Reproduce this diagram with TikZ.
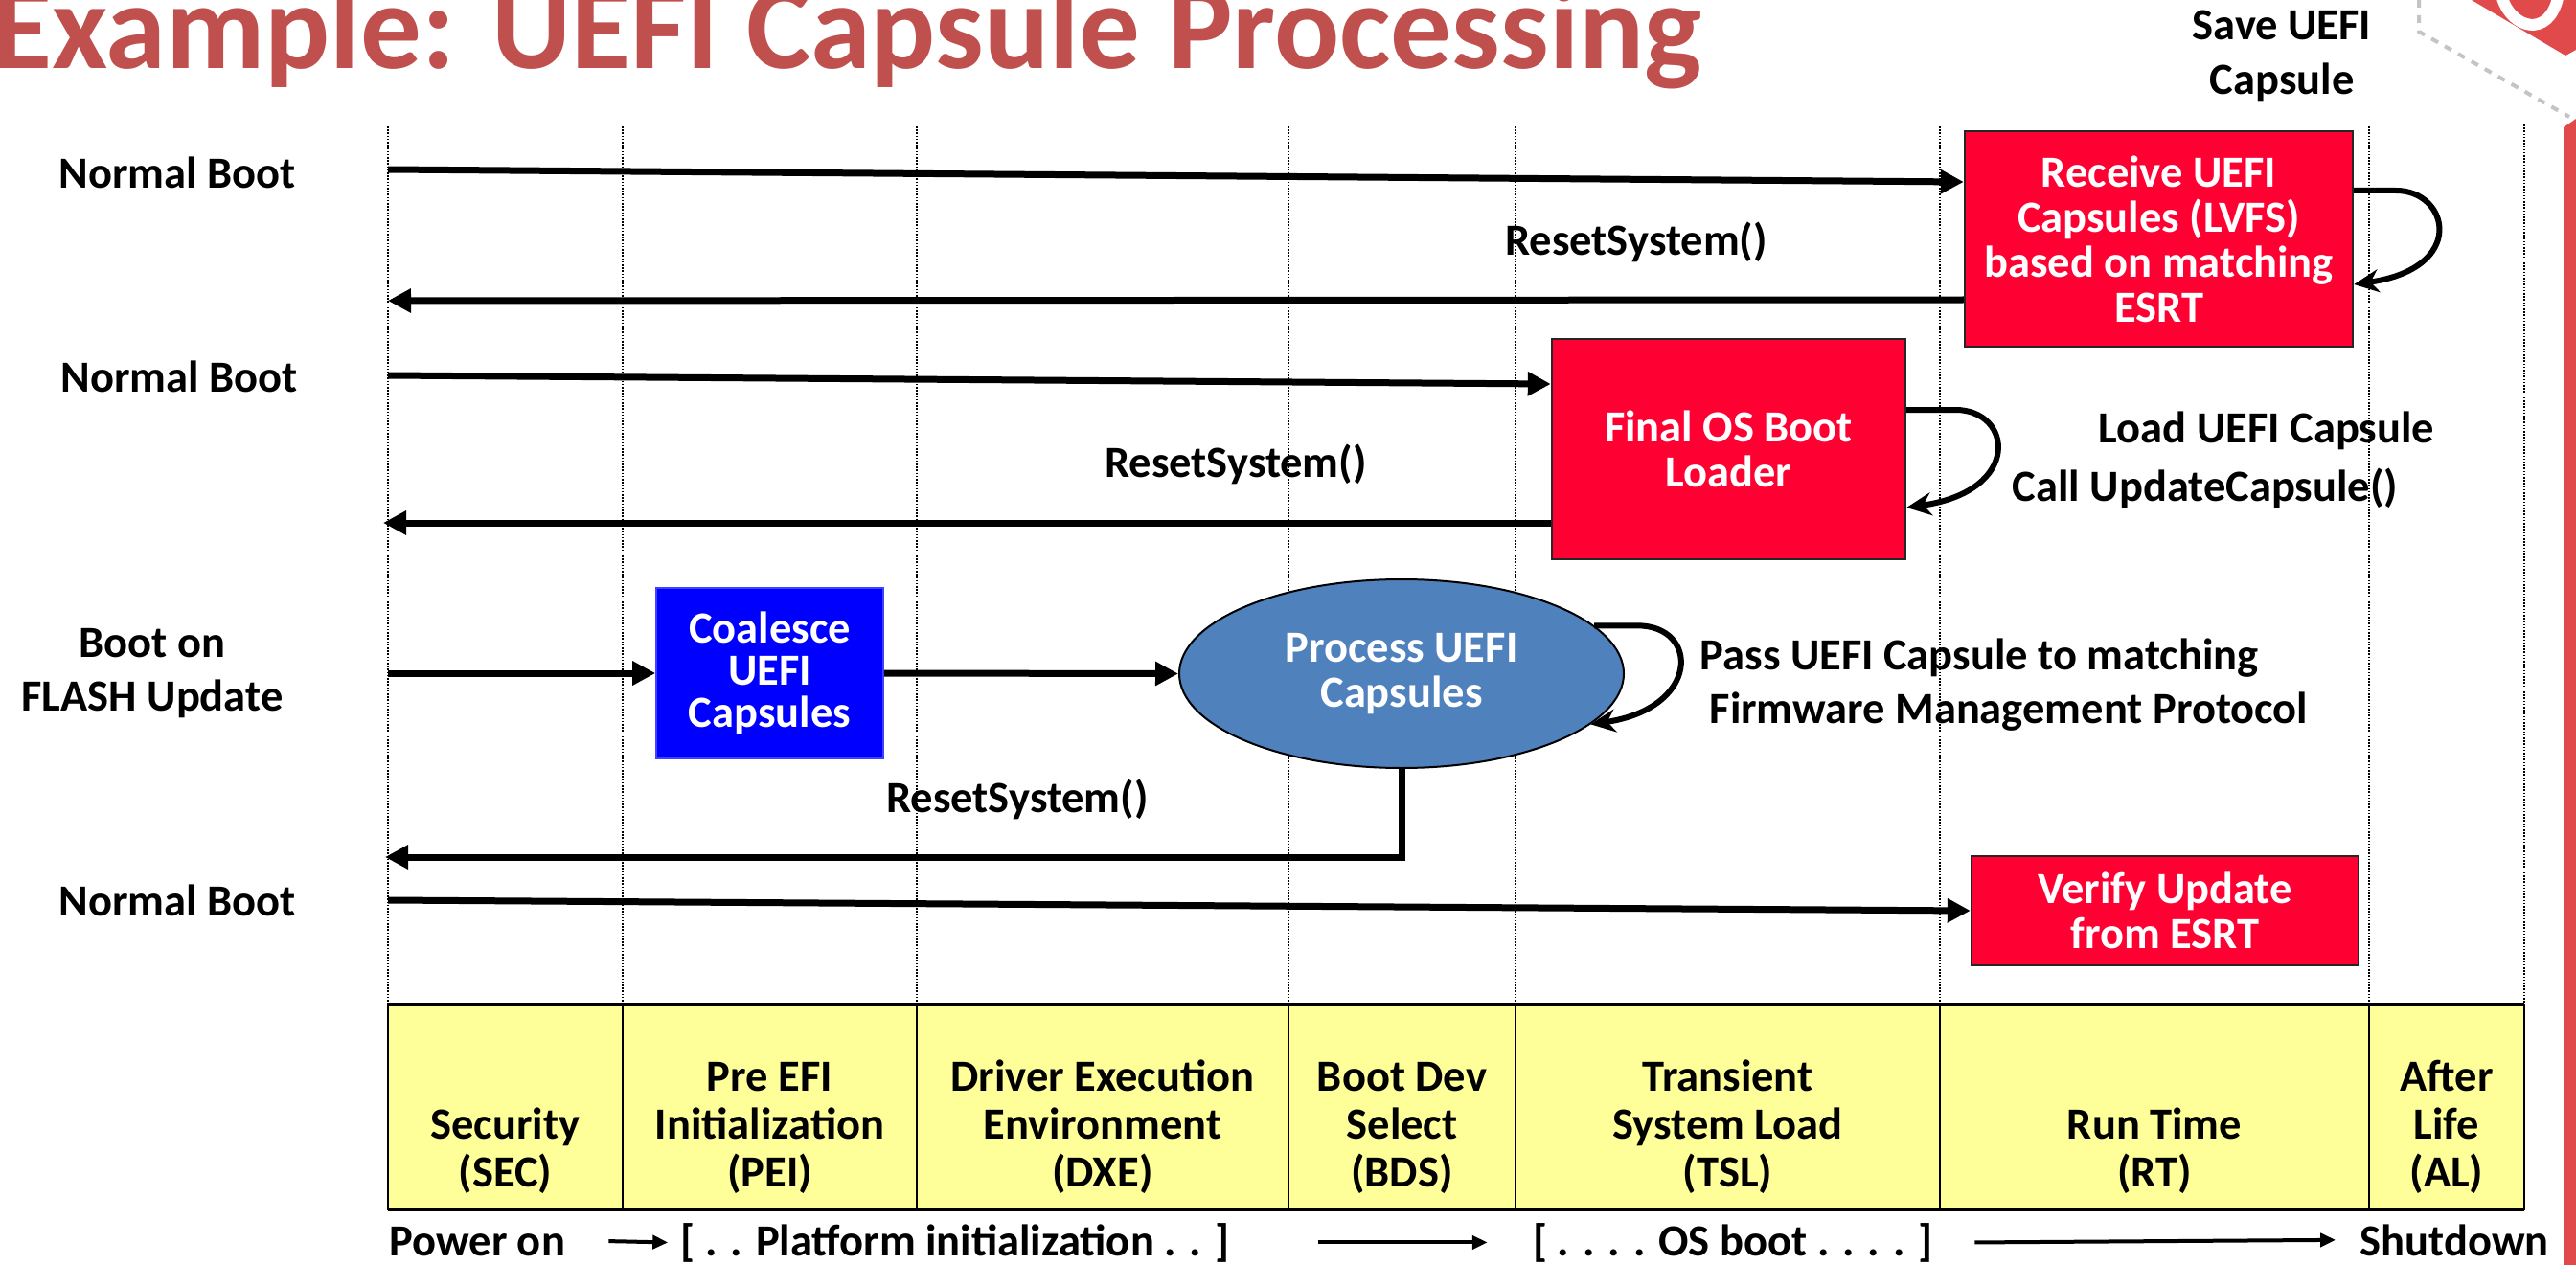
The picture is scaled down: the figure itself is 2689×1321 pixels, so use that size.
\documentclass[tikz,border=0pt]{standalone}
\usepackage{fontspec}
\setmainfont{Carlito}
\usetikzlibrary{arrows.meta,shapes.geometric,calc}

\definecolor{titlered}{HTML}{C0504D}
\definecolor{boxred}{HTML}{FF0033}
\definecolor{boxblue}{HTML}{0000FF}
\definecolor{procblue}{HTML}{4F81BD}
\definecolor{bandyellow}{HTML}{FFFF99}
\definecolor{logored}{HTML}{E04A4A}
\definecolor{logogray}{HTML}{C4C4C4}

\newcommand{\myfs}[2]{\fontsize{#1}{#2}\selectfont\bfseries}

\begin{document}
\begin{tikzpicture}[x=0.5pt,y=-0.5pt,
  lbl/.style={font=\myfs{23.25}{28}, inner sep=0, align=center},
  boxtxt/.style={font=\myfs{23.25}{23.5}, text=white, align=center, inner sep=0},
  redbox/.style={rectangle, fill=boxred, draw=black!85, line width=1.2pt, boxtxt},
  flow/.style={line width=3.5pt, -{Triangle[length=12pt,width=12pt]}},
  selfloop/.style={line width=3pt, -{Stealth[length=13pt,width=12pt]}},
  lifeline/.style={line width=0.8pt, dash pattern=on 0.8pt off 0.8pt},
  cell/.style={rectangle, fill=bandyellow, draw=black, line width=1pt,
    minimum height=107pt, inner sep=0, outer sep=0},
  celltxt/.style={font=\myfs{23.25}{25}, align=center, inner sep=0, anchor=south},
  bottomarrow/.style={line width=2pt, -{Triangle[length=8pt,width=7pt]}}
]
\useasboundingbox (0,0) rectangle (2689,1321);
\clip (0,0) rectangle (2689,1321);
\fill[white] (0,0) rectangle (2689,1321);

% corner logo and side bar
\fill[logored] (2580,0) -- (2678,58) -- (2689,52) -- (2689,0) -- cycle;
\draw[white, line width=6pt] (2612,-2) .. controls (2622,30) and (2660,40) .. (2670,-2);
\draw[logogray, line width=2pt, dash pattern=on 4pt off 4pt] (2525,0) -- (2525,33) -- (2682,122);
\fill[logored] (2676,133) -- (2689,124) -- (2689,1321) -- (2676,1321) -- cycle;

% title
\node[font=\myfs{63.5}{70}, text=titlered, anchor=base west, inner sep=0] (title)
  at (-8,72) {Example: UEFI Capsule Processing};

% boot phase band
\node[cell, minimum width=122.5pt] (sec) at (527.5,1156) {};
\node[cell, minimum width=153.5pt] (pei) at (803.5,1156) {};
\node[cell, minimum width=194pt]   (dxe) at (1151,1156) {};
\node[cell, minimum width=118.5pt] (bds) at (1463.5,1156) {};
\node[cell, minimum width=221.5pt] (tsl) at (1803.5,1156) {};
\node[cell, minimum width=224pt]   (rt)  at (2249,1156) {};
\node[cell, minimum width=81pt]    (al)  at (2554,1156) {};
\draw[line width=1.6pt] (sec.north west) -- (al.north east);
\draw[line width=2pt] (sec.south west) -- (al.south east);
\draw[line width=1.2pt] (al.north east) -- (al.south east);

\node[celltxt] (sectxt) at (527.5,1247) {Security\\(SEC)};
\node[celltxt] (peitxt) at (803.5,1247) {Pre EFI\\Initialization\\(PEI)};
\node[celltxt] (dxetxt) at (1151,1247) {Driver Execution\\Environment\\(DXE)};
\node[celltxt] (bdstxt) at (1463.5,1247) {Boot Dev\\Select\\(BDS)};
\node[celltxt] (tsltxt) at (1803.5,1247) {Transient\\System Load\\(TSL)};
\node[celltxt] (rttxt)  at (2249,1247) {Run Time\\(RT)};
\node[celltxt] (altxt)  at (2554,1247) {After\\Life\\(AL)};

% phase lifelines
\foreach \p in {sec,pei,dxe,bds,tsl,rt,al}
  \draw[lifeline] (\p.north west |- 0,132) -- (\p.north west);
\draw[lifeline] (al.north east |- 0,130) -- (al.north east);

% boot path labels
\node[lbl] (nb1) at (185,180) {Normal Boot};
\node[lbl] (nb2) at (187,393) {Normal Boot};
\node[lbl] (flash) at (159,703) {Boot on\\FLASH Update};
\node[lbl] (nb4) at (185,940) {Normal Boot};
\node[lbl, font=\myfs{23.25}{28.5}] (save) at (2382,58) {Save UEFI\\Capsule};

% process boxes
\node[redbox, minimum width=202.5pt, minimum height=112.5pt] (recv) at (2253.5,249.5)
  {Receive UEFI\\Capsules (LVFS)\\based on matching\\ESRT};
\node[redbox, minimum width=184.5pt, minimum height=115pt] (fosbl) at (1804.5,469)
  {Final OS Boot\\Loader};
\node[rectangle, fill=boxblue, draw=blue!75!white, line width=0.8pt, boxtxt,
  font=\myfs{23.25}{22}, minimum width=118.5pt, minimum height=89pt] (coal) at (803.5,703)
  {Coalesce\\UEFI\\Capsules};
\node[ellipse, fill=procblue, draw=black, line width=1pt, boxtxt,
  minimum width=232pt, minimum height=98.5pt] (proc) at (1463,703.5)
  {Process UEFI\\Capsules};
\node[redbox, minimum width=202pt, minimum height=57pt] (verify) at (2260,951)
  {Verify Update\\from ESRT};

% lifeline ends of the flows
\coordinate (nb1s) at (405,177);
\coordinate (rs1e) at (405,314);
\coordinate (nb2s) at (405,392);
\coordinate (rs2e) at (400,546);
\coordinate (nb3s) at (405,703);
\coordinate (rs3e) at (402,895);
\coordinate (nb4s) at (405,940);

% flows
\draw[flow] (nb1s) -- ([yshift=29.75pt]recv.west);
\draw[flow] ([yshift=-31.75pt]recv.west) -- (rs1e);
\draw[flow] (nb2s) -- ([yshift=34pt]fosbl.west);
\draw[flow] ([yshift=-38.5pt]fosbl.west) -- (rs2e);
\draw[flow] (nb3s) -- (coal.west);
\draw[flow] (coal.east) -- (proc.west);
\draw[flow] (proc.south) -- (proc.south |- rs3e) -- (rs3e);
\draw[flow] (nb4s) -- (verify.west);

% self loops
\draw[selfloop] ([yshift=25.25pt]recv.east) -- ++(44,0)
  .. controls +(55,0) and +(119,-17) .. ([yshift=-23.75pt]recv.east);
\draw[selfloop] ([yshift=20.5pt]fosbl.east) -- ++(51,0)
  .. controls +(60,0) and +(121,-17) .. ([yshift=-30.5pt]fosbl.east);
\draw[selfloop] (proc.14) -- ++(45,0)
  .. controls +(65,0) and +(115,-17) .. (proc.-15);

% flow labels
\node[lbl] (rs1) at (1708,253) {ResetSystem()};
\node[lbl] (rs2) at (1290,485) {ResetSystem()};
\node[lbl] (rs3) at (1062,835) {ResetSystem()};
\node[lbl] (load) at (2366,450) {Load UEFI Capsule};
\node[lbl] (call) at (2302,510) {Call UpdateCapsule()};
\node[lbl] (pass) at (2066,687) {Pass UEFI Capsule to matching};
\node[lbl] (fmp) at (2097,743) {Firmware Management Protocol};

% timeline along the bottom
\node[lbl, anchor=base west] (pwr) at (406,1311) {Power on};
\node[lbl, anchor=base] (plat) at (997,1311) {[ . . Platform initialization . . ]};
\node[lbl, anchor=base] (osb) at (1809,1311) {[ . . . . OS boot . . . . ]};
\node[lbl, anchor=base] (shut) at (2562,1311) {Shutdown};
\draw[bottomarrow] ([xshift=22.5pt]pwr.east) -- ([xshift=-6.5pt]plat.west);
\draw[bottomarrow] ([xshift=46pt]plat.east) -- ([xshift=-23.5pt]osb.west);
\draw[bottomarrow] ([xshift=21.5pt]osb.east) -- ([xshift=-12.5pt]shut.west);
\end{tikzpicture}
\end{document}
